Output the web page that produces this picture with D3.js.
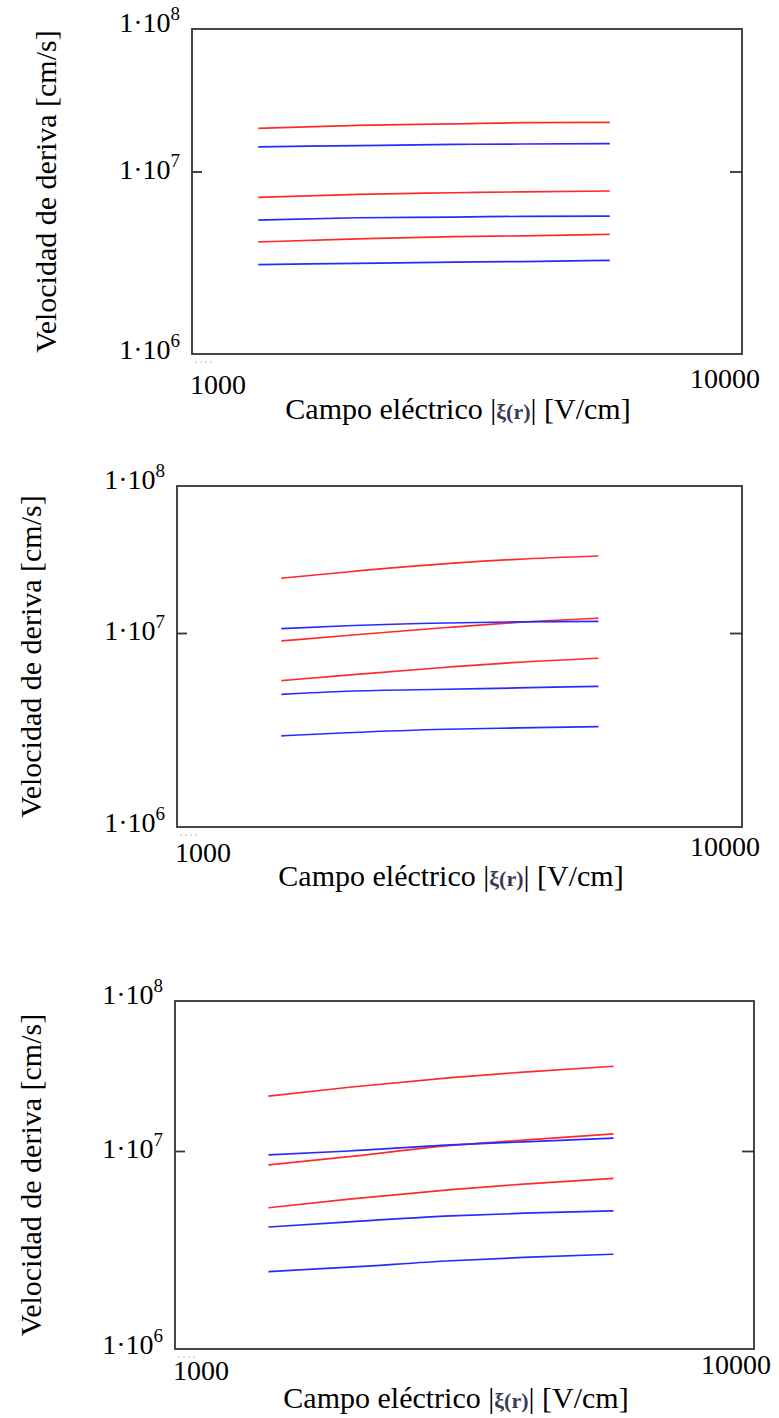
<!DOCTYPE html>
<html lang="es">
<head>
<meta charset="UTF-8">
<title>Velocidad de deriva vs campo eléctrico</title>
<script src="https://d3js.org/d3.v7.min.js"></script>
<style>
  body { margin: 0; background: #fff; }
  svg { display: block; font-family: "Liberation Serif", "Times New Roman", serif; }
</style>
</head>
<body>
<svg id="chart"></svg>
<script>
// ---- data (field in V/cm, velocity in cm/s) ----
const fieldP1 = [1320, 2000, 3000, 4000, 5750];
const p1Red = [
  [2.01e7, 2.11e7, 2.16e7, 2.20e7, 2.21e7],
  [7.22e6, 7.50e6, 7.65e6, 7.74e6, 7.82e6],
  [4.11e6, 4.27e6, 4.40e6, 4.44e6, 4.53e6]
];
const p1Blue = [
  [1.49e7, 1.52e7, 1.55e7, 1.56e7, 1.57e7],
  [5.42e6, 5.58e6, 5.63e6, 5.68e6, 5.70e6],
  [3.09e6, 3.14e6, 3.19e6, 3.21e6, 3.26e6]
];

const fieldP2 = [1530, 2000, 3000, 4000, 5570];
const p2Red = [
  [2.36e7, 2.60e7, 2.96e7, 3.17e7, 3.34e7],
  [9.10e6, 9.71e6, 1.09e7, 1.18e7, 1.26e7],
  [5.68e6, 6.07e6, 6.66e6, 7.06e6, 7.41e6]
];
const p2Blue = [
  [1.07e7, 1.12e7, 1.17e7, 1.19e7, 1.20e7],
  [4.83e6, 5.01e6, 5.13e6, 5.21e6, 5.31e6],
  [2.95e6, 3.06e6, 3.19e6, 3.24e6, 3.29e6]
];

const fieldP3 = [1450, 2000, 3000, 4000, 5720];
const p3Red = [
  [2.32e7, 2.66e7, 3.08e7, 3.36e7, 3.67e7],
  [8.50e6, 9.36e6, 1.09e7, 1.18e7, 1.30e7],
  [5.17e6, 5.72e6, 6.38e6, 6.81e6, 7.28e6]
];
const p3Blue = [
  [9.55e6, 1.00e7, 1.10e7, 1.15e7, 1.22e7],
  [4.13e6, 4.39e6, 4.70e6, 4.85e6, 4.99e6],
  [2.46e6, 2.59e6, 2.79e6, 2.90e6, 3.01e6]
];

const yTickValues = [1e6, 1e7, 1e8];
const yTickExps = ["6", "7", "8"];
const xTickValues = [1000, 10000];
const xTickLabels = ["1000", "10000"];
const yTitle = "Velocidad de deriva [cm/s]";

// ---- layout (pixels) ----
const W = 779, H = 1418;
const layout = [
  { l: 192, t: 29, r: 742, b: 354, y7: 171.5, yLabX: 56, xLo: 394, xHi: 388, hiEnd: 760, titleX: 458, titleY: 419 },
  { l: 177, t: 486, r: 742, b: 827, y7: 633, yLabX: 41, xLo: 862, xHi: 856, hiEnd: 760, titleX: 451, titleY: 886 },
  { l: 175, t: 1001, r: 754, b: 1349, y7: 1151, yLabX: 41, xLo: 1380, xHi: 1374, hiEnd: 771, titleX: 456, titleY: 1408 }
];
const panelData = [
  { field: fieldP1, red: p1Red, blue: p1Blue },
  { field: fieldP2, red: p2Red, blue: p2Blue },
  { field: fieldP3, red: p3Red, blue: p3Blue }
];

const svg = d3.select("#chart")
  .attr("width", W)
  .attr("height", H);

svg.append("rect").attr("width", W).attr("height", H).attr("fill", "#fff");

layout.forEach(function (p, i) {
  const d = panelData[i];
  const g = svg.append("g");

  const x = d3.scaleLog().domain([1000, 10000]).range([p.l, p.r]);
  // the 1e7 tick sits above the geometric middle, so use a piecewise log scale
  const y = d3.scaleLog().domain(yTickValues).range([p.b, p.y7, p.t]);

  // frame
  g.append("rect")
    .attr("x", p.l).attr("y", p.t)
    .attr("width", p.r - p.l).attr("height", p.b - p.t)
    .attr("fill", "none")
    .attr("stroke", "#333")
    .attr("stroke-width", 1.8);

  // inward ticks at 1e7 on both sides
  const left = g.append("g")
    .attr("transform", "translate(" + p.l + ",0)")
    .call(d3.axisLeft(y).tickValues([1e7]).tickSize(-10).tickFormat(""));
  const right = g.append("g")
    .attr("transform", "translate(" + p.r + ",0)")
    .call(d3.axisRight(y).tickValues([1e7]).tickSize(-12).tickFormat(""));
  [left, right].forEach(function (a) {
    a.select(".domain").remove();
    a.selectAll(".tick line").attr("stroke", "#333").attr("stroke-width", 1.8);
  });

  // y tick labels 1·10^n
  yTickValues.forEach(function (v, k) {
    let base = y(v) + 7;
    if (k === 0) base = p.b + 5;
    if (k === 2) base = p.t + 3;
    const t = g.append("text")
      .attr("x", p.l - 12)
      .attr("y", base)
      .attr("text-anchor", "end")
      .attr("font-size", 28)
      .attr("fill", "#000");
    t.append("tspan").text("1\u00b710");
    t.append("tspan").attr("dy", -12).attr("font-size", 19).text(yTickExps[k]);
  });

  // x tick labels
  g.append("text")
    .attr("x", x(xTickValues[0]) - 2)
    .attr("y", p.xLo)
    .attr("font-size", 28)
    .text(xTickLabels[0]);
  g.append("text")
    .attr("x", p.hiEnd)
    .attr("y", p.xHi)
    .attr("text-anchor", "end")
    .attr("font-size", 28)
    .text(xTickLabels[1]);

  // faint dotted mark under the lower-left corner
  g.append("line")
    .attr("x1", p.l + 3).attr("x2", p.l + 22)
    .attr("y1", p.b + 8).attr("y2", p.b + 8)
    .attr("stroke", "#bbb")
    .attr("stroke-dasharray", "2,3");

  // x title
  const xt = g.append("text")
    .attr("x", p.titleX)
    .attr("y", p.titleY)
    .attr("text-anchor", "middle")
    .attr("font-size", 30)
    .attr("fill", "#000");
  xt.append("tspan").text("Campo eléctrico |");
  xt.append("tspan").attr("font-size", 22).attr("font-weight", "bold").attr("fill", "#3a3a55").text("ξ(r)");
  xt.append("tspan").text("| [V/cm]");

  // y title
  g.append("text")
    .attr("transform", "translate(" + p.yLabX + "," + ((p.t + p.b) / 2) + ") rotate(-90)")
    .attr("text-anchor", "middle")
    .attr("font-size", 30)
    .attr("fill", "#000")
    .text(yTitle);

  // curves
  const line = d3.line()
    .x(function (v, j) { return x(d.field[j]); })
    .y(function (v) { return y(v); })
    .curve(d3.curveMonotoneX);

  const series = [];
  d.red.forEach(function (s) { series.push({ vals: s, color: "#ff2a2a" }); });
  d.blue.forEach(function (s) { series.push({ vals: s, color: "#2a2aff" }); });

  g.selectAll("path.curve")
    .data(series)
    .join("path")
    .attr("class", "curve")
    .attr("d", function (s) { return line(s.vals); })
    .attr("fill", "none")
    .attr("stroke", function (s) { return s.color; })
    .attr("stroke-width", 1.7);
});
</script>
</body>
</html>
